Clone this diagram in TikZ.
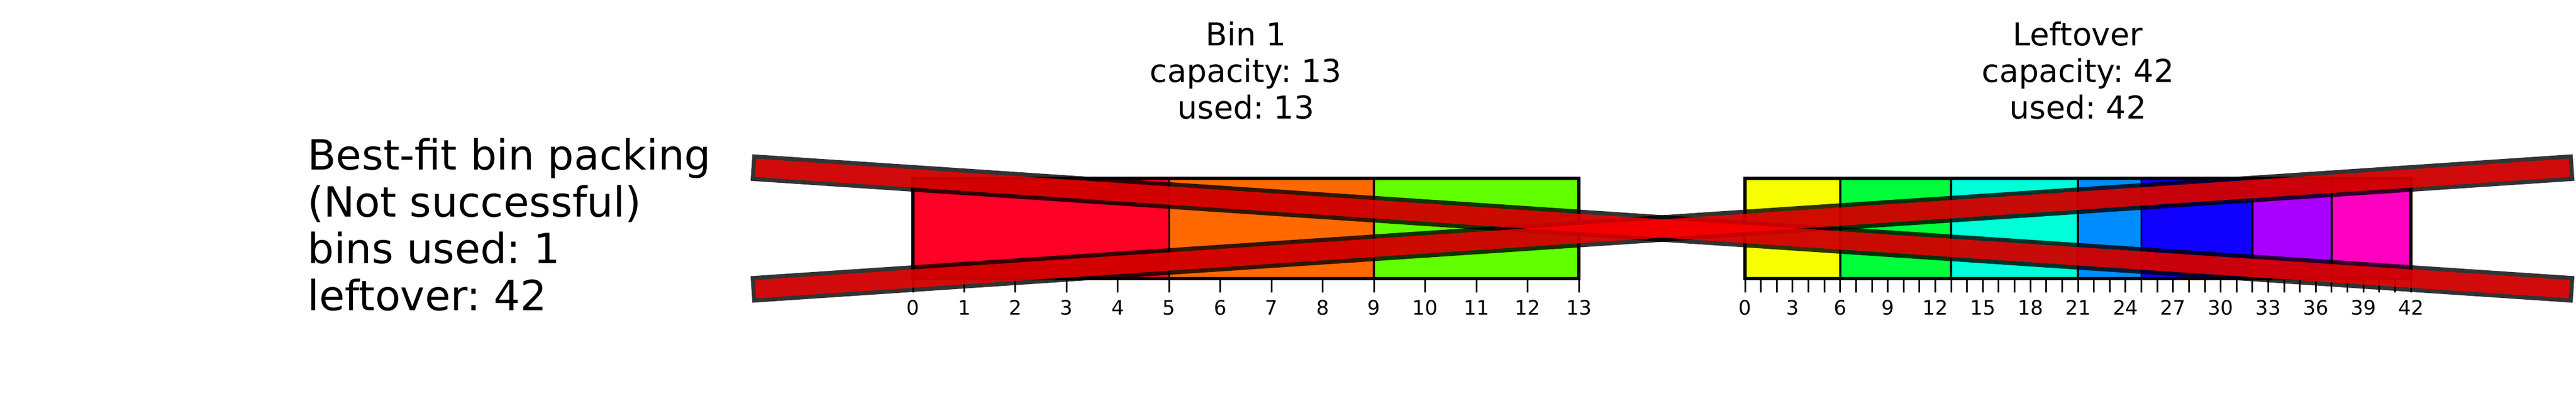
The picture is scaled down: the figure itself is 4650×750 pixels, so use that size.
\documentclass[tikz,border=0pt]{standalone}
\usepackage{fontspec}
\setmainfont{DejaVu Sans}
\frenchspacing
\definecolor{itemred}{RGB}{255,0,39}
\definecolor{itemorange}{RGB}{255,105,0}
\definecolor{itemyellow}{RGB}{247,255,0}
\definecolor{itemlime}{RGB}{97,255,0}
\definecolor{itemgreen}{RGB}{0,255,58}
\definecolor{itemcyan}{RGB}{0,255,216}
\definecolor{itemazure}{RGB}{0,140,255}
\definecolor{itemblue}{RGB}{15,0,255}
\definecolor{itempurple}{RGB}{170,0,255}
\definecolor{itemmagenta}{RGB}{255,0,192}
\tikzset{
	itembox/.style={draw=black,line width=3.5pt},
	binframe/.style={draw=black,line width=5.5pt},
	tickmark/.style={draw=black,line width=3pt},
	ticklabel/.style={anchor=base,inner sep=0pt,font=\fontsize{36}{43}\selectfont},
	bintitle/.style={anchor=base,inner sep=0pt,font=\fontsize{57}{66}\selectfont},
	sidetext/.style={anchor=base west,inner sep=0pt,font=\fontsize{75}{85}\selectfont},
	crossedge/.style={draw=black,draw opacity=0.8,line width=48pt,shorten <=-7.5pt,shorten >=-7.5pt},
	crossfill/.style={draw=red,draw opacity=0.78,line width=33pt}}
\tikzset{every picture/.style={line width=1pt}}

\begin{document}
\begin{tikzpicture}[x=1pt,y=1pt,yscale=-1,xscale=1]
	\useasboundingbox (0,0) rectangle (4650,750);

	%Bin 1: items and frame
	\foreach \a/\b/\c in {0/5/itemred,5/9/itemorange,9/13/itemlime}
		\draw [itembox,fill=\c] ({1648+\a*92.46},322) rectangle ({1648+\b*92.46},503);
	\draw [binframe] (1648,322) rectangle (2850,503);
	%Bin 1: axis ticks
	\foreach \i in {0,...,13} {
		\draw [tickmark] ({1648+\i*92.46},503) -- ({1648+\i*92.46},528);
		\node [ticklabel] (binlab\i) at ({1648+\i*92.46},568) {\i};
	}

	%Leftover: items and frame
	\foreach \a/\b/\c in {0/6/itemyellow,6/13/itemgreen,13/21/itemcyan,21/25/itemazure,25/32/itemblue,32/37/itempurple,37/42/itemmagenta}
		\draw [itembox,fill=\c] ({3150+\a*28.62},322) rectangle ({3150+\b*28.62},503);
	\draw [binframe] (3150,322) rectangle (4352,503);
	%Leftover: axis ticks
	\foreach \i in {0,...,42}
		\draw [tickmark] ({3150+\i*28.62},503) -- ({3150+\i*28.62},528);
	\foreach \i in {0,3,...,42}
		\node [ticklabel] (restlab\i) at ({3150+\i*28.62},568) {\i};

	% Text Node
	\node [bintitle] (bintitle) at (2249,82) {Bin 1};
	\node [bintitle] (bincap) at (2249,148.5) {capacity: 13};
	\node [bintitle] (binused) at (2249,214) {used: 13};
	% Text Node
	\node [bintitle] (resttitle) at (3751,82) {Leftover};
	\node [bintitle] (restcap) at (3751,148.5) {capacity: 42};
	\node [bintitle] (restused) at (3751,214) {used: 42};
	% Text Node
	\node [sidetext] (method) at (555,306) {Best-fit bin packing};
	\node [sidetext] (outcome) at (555,391) {(Not successful)};
	\node [sidetext] (binsused) at (555,475) {bins used: 1};
	\node [sidetext] (leftover) at (555,560) {leftover: 42};

	%Cross over the packing
	\coordinate (crossul) at (1364,303);
	\coordinate (crosslr) at (4638,522);
	\coordinate (crossll) at (1364,522);
	\coordinate (crossur) at (4638,303);
	\draw [crossedge] (crossul) -- (crosslr);
	\draw [crossedge] (crossll) -- (crossur);
	\draw [crossfill] (crossul) -- (crosslr);
	\draw [crossfill] (crossll) -- (crossur);
\end{tikzpicture}
\end{document}
